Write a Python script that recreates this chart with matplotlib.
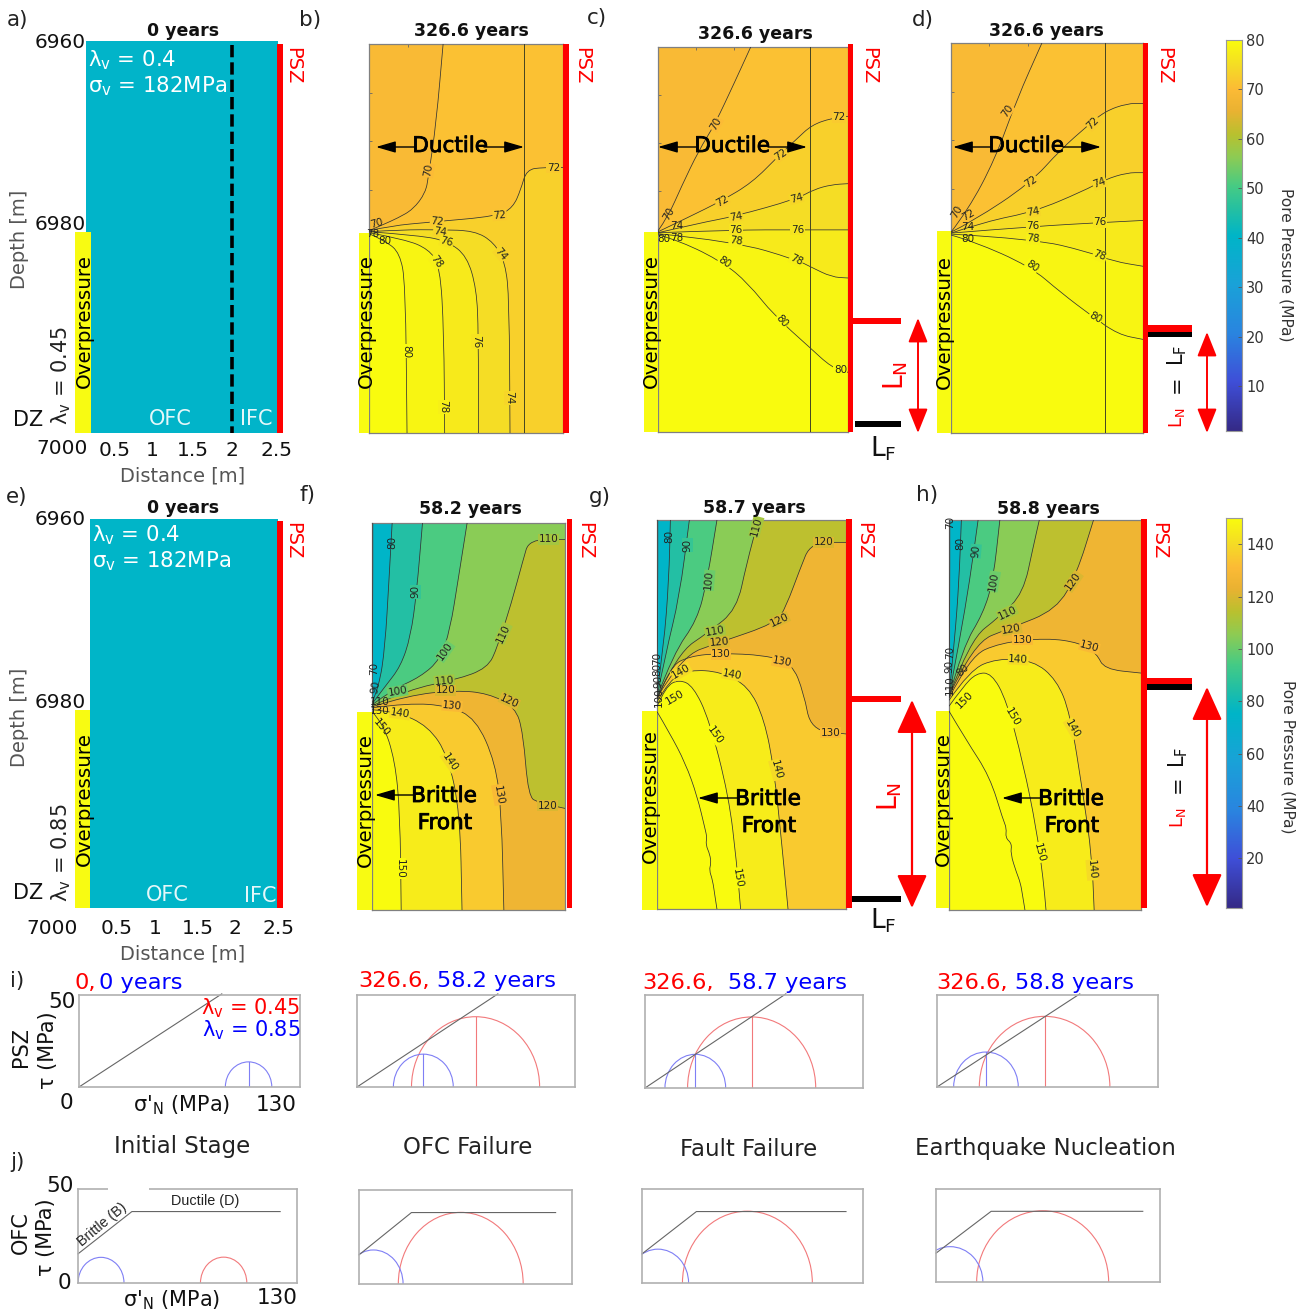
import numpy as np
import matplotlib
matplotlib.use('Agg')
import matplotlib.pyplot as plt
import matplotlib.patheffects as pe
from matplotlib.colors import LinearSegmentedColormap, Normalize
from matplotlib.path import Path
from matplotlib.patches import PathPatch, Arc, Rectangle

plt.rcParams['mathtext.default'] = 'regular'

W, H = 1311, 1313

# pore pressure contours, distance [m] and depth below 6960 m [m]
b_levels = [70, 72, 74, 76, 78, 80]
b_dist = [[0, .173, .371, .569, .728, .767, .866, .955],
          [0, .272, .817, 1.658, 1.856, 1.955, 2.03, 2.25, 2.5],
          [0, .42, .916, 1.36, 1.61, 1.757, 1.807, 1.817],
          [0, .668, 1.015, 1.262, 1.386, 1.41, 1.41],
          [0, .47, .767, .916, .965, .975],
          [0, .223, .396, .47, .49]]
b_depth = [[19.2, 18.6, 17.9, 17.0, 15.3, 13.6, 8.1, 0],
           [19.2, 18.7, 18.3, 17.7, 16.8, 15.0, 12.9, 12.7, 12.7],
           [19.3, 19.1, 19.1, 19.2, 20.4, 22.5, 26.3, 40],
           [19.3, 19.7, 20.3, 21.8, 25.2, 29.7, 40],
           [19.4, 20.1, 21.1, 22.8, 29.7, 40],
           [19.5, 20.3, 21.5, 24.6, 40]]

c_levels = [70, 72, 74, 76, 78, 80]
c_dist = [[0, .134, .308, .54, .744, 1.006, 1.22],
          [0, .424, .831, 1.238, 1.587, 1.82, 2.023, 2.285, 2.5],
          [0, .541, 1.006, 1.82, 2.052, 2.285, 2.5],
          [0, 1.006, 1.82, 2.5],
          [0, 1.006, 1.82, 2.023, 2.285, 2.5],
          [0, .308, .86, 1.18, 1.529, 1.994, 2.285, 2.5]]
c_depth = [[19.1, 17.6, 14.5, 10.7, 8.1, 3.7, 0],
           [19.2, 17.6, 16.0, 14.1, 11.3, 9.6, 8.1, 7.4, 7.2],
           [19.3, 18.3, 17.6, 15.8, 14.8, 14.3, 14.2],
           [19.3, 19.0, 19.0, 19.0],
           [19.4, 20.2, 22.1, 22.9, 23.9, 24.0],
           [19.5, 20.2, 22.4, 24.5, 27.9, 31.2, 33.3, 33.8]]

d_levels = [70, 72, 74, 76, 78, 80]
d_dist = [[0, .224, .569, .856, 1.184],
          [0, .282, 1.029, 1.431, 1.776, 2.006, 2.293, 2.5],
          [0, .454, 1.086, 1.718, 2.006, 2.293, 2.5],
          [0, 1.086, 2.006, 2.5],
          [0, 1.086, 1.776, 2.121, 2.5],
          [0, .282, 1.029, 1.431, 1.833, 2.178, 2.5]]
d_depth = [[19.4, 17.1, 12.0, 5.8, 0],
           [19.4, 18.3, 14.4, 10.9, 8.5, 7.0, 6.2, 6.2],
           [19.5, 18.3, 17.3, 15.2, 14.0, 13.3, 13.3],
           [19.5, 18.8, 18.4, 18.2],
           [19.6, 20.1, 21.4, 22.4, 22.9],
           [19.7, 20.3, 22.9, 25.6, 28.0, 29.9, 30.4]]

f_levels = [70, 80, 90, 100, 110, 120, 130, 140, 150]
f_dist = [[0, .01, .01],
          [0, .092, .169, .22, .261],
          [0, .169, .373, .501, .578, .654],
          [0, .271, .629, .884, 1.012, 1.115, 1.232],
          [0, .475, 1.089, 1.498, 1.626, 1.805, 1.958, 2.035, 2.5],
          [0, .475, 1.089, 1.498, 1.856, 1.958, 2.025, 2.163, 2.5],
          [0, .475, .987, 1.345, 1.6, 1.677, 1.708],
          [0, .322, .731, .987, 1.14, 1.166],
          [0, .143, .297, .363, .378]]
f_depth = [[18.0, 9.0, 0],
           [18.6, 16.9, 12.8, 5.9, 0],
           [18.7, 16.9, 14.8, 11.7, 7.2, 0],
           [18.8, 17.2, 15.9, 14.1, 11.0, 5.9, 0],
           [18.9, 17.2, 16.2, 15.0, 12.8, 8.3, 3.8, 1.7, 1.7],
           [19.0, 17.8, 17.3, 17.6, 19.0, 21.7, 28.3, 28.9, 29.5],
           [19.1, 18.6, 18.9, 20.2, 24.8, 30.0, 40],
           [19.3, 19.5, 21.0, 24.1, 30.0, 40],
           [19.5, 20.7, 24.5, 30.0, 40]]

g_levels = [70, 80, 90, 100, 110, 120, 130, 140, 150, 160]
g_dist = [[0, .01, .01],
          [0, .089, .157, .177],
          [0, .115, .297, .428],
          [0, .219, .532, .663, .793],
          [0, .271, .689, 1.054, 1.185, 1.341],
          [0, .324, .819, 1.576, 1.707, 1.889, 2.035, 2.5],
          [0, .167, .428, .846, 1.42, 1.785, 1.942, 2.035, 2.5],
          [0, .167, .428, .846, 1.211, 1.42, 1.55, 1.654, 1.733],
          [0, .115, .297, .48, .689, .95, 1.054, 1.106],
          [0, .167, .376, .532, .637, .66, .645, .70, .715, .69, .735, .767, .793]]
g_depth = [[17.5, 9.0, 0],
           [17.8, 13.0, 6.2, 0],
           [18.2, 13.7, 7.9, 0],
           [18.2, 13.7, 10.3, 6.2, 0],
           [18.3, 13.7, 11.5, 9.2, 4.5, 0],
           [18.3, 14.0, 12.6, 10.6, 8.9, 5.1, 2.3, 2.3],
           [18.5, 15.1, 14.0, 13.7, 13.9, 14.7, 17.8, 21.6, 22.0],
           [18.7, 16.4, 15.4, 15.6, 17.1, 20.5, 25.7, 33.6, 40],
           [19.2, 17.1, 16.4, 17.1, 20.5, 28.4, 35.3, 40],
           [19.7, 21.9, 25.0, 28.4, 31.8, 32.6, 33.4, 34.4, 35.3, 36.0, 37.0, 38.7, 40]]

h_levels = [70, 80, 90, 100, 110, 120, 130, 140, 150, 160]
h_dist = [[0, .01, .01],
          [0, .074, .131, .161],
          [0, .139, .27, .379],
          [0, .183, .444, .575, .662],
          [0, .27, .662, .967, 1.098, 1.176],
          [0, .314, .793, 1.402, 1.664, 1.882],
          [0, .27, .662, 1.272, 1.707, 1.925, 2.021, 2.5],
          [0, .27, .618, 1.098, 1.402, 1.577, 1.751, 1.86, 1.89],
          [0, .183, .357, .553, .749, .967, 1.141, 1.228, 1.263],
          [0, .226, .531, .706, .75, .735, .82, .80, .88, .93, .96, .989]]
h_depth = [[18.0, 9.0, 0],
           [18.1, 12.3, 6.2, 0],
           [18.1, 12.3, 6.2, 0],
           [18.1, 13.0, 9.6, 6.2, 0],
           [18.1, 12.3, 9.9, 7.5, 2.7, 0],
           [18.1, 12.6, 11.1, 9.2, 5.5, 0],
           [18.3, 14.0, 12.6, 12.1, 12.6, 13.7, 15.3, 15.7],
           [18.5, 15.4, 14.2, 14.4, 16.4, 19.8, 28.4, 34.5, 40],
           [19.1, 17.1, 15.7, 15.7, 18.5, 25.0, 31.8, 36.9, 40],
           [19.6, 22.6, 26.3, 30.8, 31.6, 32.6, 33.2, 34.2, 36.2, 37.2, 38.6, 40]]

# Mohr circles, principal stresses [MPa]
psz_red_s3 = [None, 32.5, 25.4, 24.9]
psz_red_s1 = [None, 108.9, 101.8, 101.7]
psz_blue_s3 = [86.1, 21.7, 11.9, 9.8]
psz_blue_s1 = [113.4, 57.4, 48.1, 47.8]
ofc_red_s3 = [72.7, 24.0, 23.8, 23.6]
ofc_red_s1 = [100.2, 100.2, 100.2, 100.2]
ofc_blue_s3 = [0, -9.3, -8.6, -10.8]
ofc_blue_s1 = [27.3, 26.9, 27.4, 27.2]
# failure envelopes
psz_env_s = [0, 84]
psz_env_t = [0, 50.6]
ofc_env_s = [0, 32, 120]
ofc_env_t = [15.5, 38, 38]

parula = LinearSegmentedColormap.from_list('parula_like', [
    (0.0, '#352a87'), (0.125, '#3f4fd8'), (0.25, '#2a85e0'), (0.375, '#1aa2d8'),
    (0.5, '#00b5c8'), (0.5625, '#22bfa5'), (0.625, '#45cb85'), (0.7, '#8ccc55'),
    (0.76, '#b9c12f'), (0.82, '#eab232'), (0.875, '#fcbb36'), (0.9375, '#f5dd25'),
    (1.0, '#f9fb0e')])
norm_top = Normalize(1, 80)
norm_bot = Normalize(1, 150)
RED = '#fe0000'

fig = plt.figure(figsize=(W / 100, H / 100), dpi=100)


def px_axes(x0, y0, x1, y1, **kw):
    return fig.add_axes([x0 / W, 1 - y1 / H, (x1 - x0) / W, (y1 - y0) / H], **kw)


def smooth_path(xs, ys, tail=()):
    pts = list(zip(xs, ys))
    verts, codes = [pts[0]], [Path.MOVETO]
    for i in range(1, len(pts) - 1):
        mid = ((pts[i][0] + pts[i + 1][0]) / 2, (pts[i][1] + pts[i + 1][1]) / 2)
        verts += [pts[i], mid]
        codes += [Path.CURVE3, Path.CURVE3]
    verts.append(pts[-1])
    codes.append(Path.LINETO)
    for p in tail:
        verts.append(p)
        codes.append(Path.LINETO)
    if tail:
        verts.append(pts[0])
        codes.append(Path.CLOSEPOLY)
    return Path(verts, codes)


def contour_panel(rect, levels, dists, depths, norm, base, labels, interface=False):
    ax = px_axes(*rect)
    ax.set_xlim(0, 2.5)
    ax.set_ylim(40, 0)
    ax.set_facecolor(parula(norm(base)))
    for i, lev in enumerate(levels):
        step = levels[1] - levels[0]
        col = parula(norm(lev + step / 2))
        xe, ye = dists[i][-1], depths[i][-1]
        if ye <= 0.01:
            tail = [(2.5, 0), (2.5, 40), (0, 40)]
        elif xe >= 2.49:
            tail = [(2.5, 40), (0, 40)]
        else:
            tail = [(0, 40)]
        ax.add_patch(PathPatch(smooth_path(dists[i], depths[i], tail), fc=col, ec='none', zorder=2 + i * 0.01))
    for i in range(len(levels)):
        ax.add_patch(PathPatch(smooth_path(dists[i], depths[i]), fc='none', ec='#333333', lw=0.55, zorder=3))
    if interface:
        ax.axvline(2.0, color='#444422', lw=0.7, zorder=3)
    for lev, x, y, rot in labels:
        bb = None
        if x > 0.3:
            bb = dict(fc=parula(norm(lev)), ec='none', pad=0.4)
        ax.text(x, y, str(lev), rotation=rot, fontsize=7.5, color='#222222', ha='center', va='center',
                rotation_mode='anchor', bbox=bb, zorder=6, clip_on=False)
    ax.set_xticks(np.arange(0.5, 2.5, 0.5))
    ax.set_yticks(np.arange(5, 40, 5))
    ax.tick_params(direction='in', length=2.5, width=0.6, color='#666666', top=True, right=True,
                   labelleft=False, labelbottom=False)
    for s in ax.spines.values():
        s.set_color('#808080')
        s.set_linewidth(0.9)
    return ax


# contour label placement (level, distance, depth, rotation)
b_lab = [(70, .767, 13.0, 80), (70, .1, 18.4, 15), (72, 2.376, 12.7, 0), (72, 1.683, 17.6, 5), (72, .876, 18.3, -5),
         (74, .916, 19.3, -8), (74, 1.7, 21.6, -50), (74, 1.807, 36.4, -90), (76, 1.0, 20.3, -15), (76, 1.386, 30.6, -90),
         (78, .866, 22.4, -55), (78, .955, 37.3, -90), (80, .485, 31.6, -90), (80, .2, 20.3, 0), (78, .05, 19.5, 0)]
c_lab = [(70, .76, 8.0, 60), (70, .145, 17.3, 60), (72, 2.384, 7.3, 0), (72, 1.616, 11.2, 35), (72, .843, 16.0, 30),
         (74, 1.82, 15.7, 15), (74, 1.023, 17.6, 10), (74, .24, 18.6, 0), (76, 1.837, 19.0, 0), (76, 1.023, 19.0, 0),
         (78, 1.82, 22.1, -25), (78, 1.023, 20.2, -8), (78, .24, 19.8, 0), (80, 2.4, 33.6, 0), (80, 1.628, 28.5, -50),
         (80, .878, 22.4, -35), (80, .076, 19.9, 0)]
d_lab = [(70, .73, 7.0, 55), (70, .08, 17.3, 60), (72, 1.851, 8.2, 45), (72, 1.04, 14.2, 35), (72, .22, 17.7, 30),
         (74, 1.937, 14.4, 20), (74, 1.069, 17.3, 10), (74, .22, 18.9, 0), (76, 1.937, 18.4, 0), (76, 1.069, 18.8, 0),
         (78, 1.937, 21.8, -20), (78, 1.069, 20.1, -5), (80, 1.879, 28.2, -30), (80, 1.057, 22.9, -35), (80, .22, 20.1, 0)]
f_lab = [(80, .256, 2.0, 90), (90, .567, 7.1, 90), (100, .946, 13.3, 55), (110, 1.702, 11.4, 65), (110, 2.29, 1.7, 0),
         (110, .936, 16.3, 5), (120, .951, 17.3, 0), (120, 1.779, 18.4, -25), (120, 2.275, 29.2, 0), (130, 1.038, 18.9, -5),
         (130, 1.636, 28.1, -80), (140, 1.012, 24.7, -55), (140, .36, 19.7, -8), (150, .118, 21.1, -50), (150, .363, 35.7, -90),
         (100, .33, 17.4, 10), (70, .03, 15.0, 90), (90, .04, 17.0, 80), (110, .1, 18.5, 0), (130, .1, 19.4, 0)]
g_lab = [(80, .167, 1.7, 90), (90, .402, 2.6, 90), (100, .689, 6.2, 85), (110, 1.315, .7, 75), (110, .767, 11.4, 10),
         (120, 2.2, 2.3, 0), (120, 1.618, 10.3, 25), (120, .819, 12.6, 5), (130, .846, 13.8, 0), (130, 1.654, 14.6, -10),
         (130, 2.291, 21.9, 0), (140, .992, 15.9, -10), (140, 1.576, 25.7, -75), (150, .767, 22.1, -55), (150, 1.065, 36.8, -80),
         (70, 0, 14.2, 90), (80, 0, 15.4, 90), (90, .02, 16.6, 90), (100, .02, 18.2, 90), (140, .32, 15.6, 30), (150, .24, 18.2, 30)]
h_lab = [(70, .01, .2, 90), (80, .148, 2.4, 90), (90, .348, 3.2, 85), (100, .584, 6.3, 80), (110, .758, 9.5, 25),
         (120, .814, 11.2, 10), (120, 1.62, 6.3, 55), (130, .958, 12.3, 0), (130, 1.829, 13.0, -15), (140, .902, 14.3, -3),
         (140, 1.611, 21.4, -60), (140, 1.86, 35.9, -85), (150, .828, 20.2, -60), (150, 1.176, 34.1, -75),
         (70, .01, 13.6, 90), (90, .0, 15.0, 90), (110, .01, 16.9, 90), (80, .18, 15.4, 45), (150, .2, 18.4, 45)]

contour_panel((369, 44, 563, 433), b_levels, b_dist, b_depth, norm_top, 69.5, b_lab, True)
contour_panel((658, 47, 848, 432), c_levels, c_dist, c_depth, norm_top, 69.5, c_lab, True)
contour_panel((951, 43, 1143, 433), d_levels, d_dist, d_depth, norm_top, 69.5, d_lab, True)
contour_panel((372, 523, 565, 910), f_levels, f_dist, f_depth, norm_bot, 65, f_lab)
contour_panel((657, 520, 846, 909), g_levels, g_dist, g_depth, norm_bot, 65, g_lab)
contour_panel((949, 520, 1141, 910), h_levels, h_dist, h_depth, norm_bot, 65, h_lab)

# initial state panels
for rect, norm, val in [((86, 41, 278, 433), norm_top, 40), ((90, 519, 278, 908), norm_bot, 75)]:
    ax = px_axes(*rect)
    ax.set_xlim(0.137, 2.58)
    ax.set_ylim(7000, 6960)
    ax.axhspan(6960, 7000, color=parula(norm(val)), lw=0)
    ax.axis('off')
    if norm is norm_top:
        ax.plot([2, 2], [6960.4, 7000], color='black', lw=2.6, ls=(0, (3.4, 1.4)))


def mohr_panel(rect, env_s, env_t, red, blue, stems=False):
    ax = px_axes(*rect)
    ax.set_xlim(0, 130)
    ax.set_ylim(0, 50)
    ax.set_xticks([])
    ax.set_yticks([])
    for s in ax.spines.values():
        s.set_color('#b0b0b0')
        s.set_linewidth(1.2)
    for (s3, s1), col in [(red, '#f2797b'), (blue, '#7f7ff5')]:
        if s3 is None:
            continue
        c, r = (s1 + s3) / 2, (s1 - s3) / 2
        ax.add_patch(Arc((c, 0), 2 * r, 2 * r, theta1=0, theta2=180, ec=col, lw=0.8))
        if stems:
            ax.plot([c, c], [0, r], color=col, lw=0.8)
    ax.plot(env_s, env_t, color='#666666', lw=0.8, clip_on=False)
    return ax


i_rects = [(79, 995, 300, 1087), (357, 995, 575, 1087), (645, 995, 863, 1088), (937, 995, 1158, 1087)]
j_rects = [(78, 1189, 297, 1283), (359, 1190, 572, 1284), (642, 1189, 863, 1283), (936, 1189, 1160, 1282)]
for k in range(4):
    mohr_panel(i_rects[k], psz_env_s, psz_env_t, (psz_red_s3[k], psz_red_s1[k]), (psz_blue_s3[k], psz_blue_s1[k]), True)
    mohr_panel(j_rects[k], ofc_env_s, ofc_env_t, (ofc_red_s3[k], ofc_red_s1[k]), (ofc_blue_s3[k], ofc_blue_s1[k]))


def colorbar(rect, vmax, norm, ticks):
    ax = px_axes(*rect)
    grad = np.linspace(1, vmax, 256)[:, None]
    ax.imshow(grad, aspect='auto', origin='lower', extent=[0, 1, 1, vmax], cmap=parula, norm=norm)
    ax.set_xticks([])
    ax.yaxis.tick_right()
    ax.set_yticks(ticks)
    ax.tick_params(axis='y', direction='in', length=3, width=0.6, color='#555555', labelsize=10.5,
                   labelcolor='#333333', pad=3)
    for s in ax.spines.values():
        s.set_color('#999999')
        s.set_linewidth(0.8)


colorbar((1226, 40, 1242, 431), 80, norm_top, [10, 20, 30, 40, 50, 60, 70, 80])
colorbar((1226, 518, 1242, 908), 150, norm_bot, [20, 40, 60, 80, 100, 120, 140])

# annotation layer in image pixels
ov = fig.add_axes([0, 0, 1, 1], zorder=10)
ov.set_xlim(0, W)
ov.set_ylim(H, 0)
ov.axis('off')


def box(x0, y0, x1, y1, col):
    ov.add_patch(Rectangle((x0, y0), x1 - x0, y1 - y0, fc=col, ec='none'))


def txt(x, y, s, size=14, col='#111111', rot=0, ha='center', va='center', **kw):
    return ov.text(x, y, s, fontsize=size, color=col, rotation=rot, ha=ha, va=va, **kw)


def arrow(x0, y0, x1, y1, style, col='black', lw=1.0):
    ov.annotate('', xy=(x1, y1), xytext=(x0, y0),
                arrowprops=dict(arrowstyle=style, color=col, lw=lw, shrinkA=0, shrinkB=0, mutation_scale=10))


def heavy(x, y, s):
    t = txt(x, y, s, 15.5, 'black')
    t.set_path_effects([pe.withStroke(linewidth=0.6, foreground='black')])


# overpressure zones
for r in [(75, 232, 91, 433), (359, 233, 369, 433), (644, 232, 658, 432), (937, 231, 951, 433),
          (75, 710, 90, 908), (357, 712, 372, 910), (642, 711, 657, 910), (936, 711, 949, 908)]:
    box(*r, '#f8fb12')
for x, y in [(84, 321), (366, 321), (651, 321), (944, 322), (84, 799), (365, 800), (650, 796), (943, 799)]:
    txt(x, y, 'Overpressure', 14.3, 'black', 90)

# principal slip zones and fault lengths
for r in [(277, 44, 283, 433), (563, 44, 569, 433), (848, 44, 853, 432), (1143, 43, 1148, 433),
          (277, 521, 283, 908), (567, 519, 572, 908), (846, 519, 852, 908), (1141, 519, 1147, 908)]:
    box(*r, RED)
for x, y in [(293, 66), (582, 66), (869, 66), (1164, 66), (293, 541), (585, 541), (864, 541), (1159, 541)]:
    txt(x, y, 'PSZ', 14, RED, -90)
box(853, 318, 901, 324, RED)
box(855, 421, 901, 427, 'black')
box(1148, 325, 1192, 332, RED)
box(1148, 332, 1192, 337, 'black')
box(852, 696, 901, 702, RED)
box(852, 896, 901, 902, 'black')
box(1147, 678, 1192, 684, RED)
box(1147, 684, 1192, 690, 'black')
small = '<|-|>,head_length=1.5,head_width=0.6'
big = '<|-|>,head_length=2.1,head_width=0.95'
arrow(918, 318, 918, 433, small, RED, 1.4)
arrow(1207, 332, 1207, 433, small, RED, 1.4)
arrow(912, 700, 912, 908, big, RED, 1.6)
arrow(1207, 687, 1207, 907, big, RED, 1.6)
txt(896, 375, '$L_N$', 19, RED, 90)
txt(883, 449, '$L_F$', 19, '#111111')
txt(890, 796, '$L_N$', 19, RED, 90)
txt(883, 921, '$L_F$', 19, '#111111')
txt(1177, 355, '$L_F$', 15, '#111111', 90)
txt(1177, 384, '=', 15, '#111111', 90)
txt(1177, 418, '$L_N$', 13, RED, 90)
txt(1178, 757, '$L_F$', 15, '#111111', 90)
txt(1178, 784, '=', 15, '#111111', 90)
txt(1178, 818, '$L_N$', 13, RED, 90)

# ductile and brittle labels
stealth = '-|>,head_length=1.2,head_width=0.35'
for xc, left, right, tl, tr in [(450, 376, 524, 415, 484), (732, 658, 807, 697, 768), (1026, 953, 1101, 991, 1063)]:
    heavy(xc, 146, 'Ductile')
    arrow(tl, 147, left, 147, stealth)
    arrow(tr, 147, right, 147, stealth)
for xc, yc, tail, tip, ya in [(444, 796, 413, 375, 795), (768, 799, 737, 698, 798), (1071, 799, 1040, 1002, 798)]:
    heavy(xc, yc, 'Brittle')
    heavy(xc + 1, yc + 27, 'Front')
    arrow(tail, ya, tip, ya, stealth)

# titles
for x, y, s in [(183, 31, '0 years'), (471, 31, '326.6 years'), (755, 34, '326.6 years'), (1046, 31, '326.6 years'),
                (183, 508, '0 years'), (470, 509, '58.2 years'), (754, 508, '58.7 years'), (1048, 509, '58.8 years')]:
    txt(x, y, s, 12.5, '#111111', fontweight='bold')
for x, y, s in [(18, 20, 'a)'), (310, 20, 'b)'), (597, 18, 'c)'), (923, 20, 'd)'), (17, 497, 'e)'), (308, 495, 'f)'),
                (600, 497, 'g)'), (927, 495, 'h)'), (17, 981, 'i)'), (17, 1162, 'j)')]:
    txt(x, y, s, 15.5, '#222222')

# axis text of the initial panels
for y0, lam, xs, ofc, ifc, x7000, y7000, ydz in [
        (0, '0.45', [115, 152, 193, 232, 276], (170, 419), (256, 419), 62, 448, 420),
        (478, '0.85', [117, 155, 198, 235, 279], (167, 895), (260, 896), 52, 928, 893)]:
    txt(60, 43 + y0 * 0.997, '6960', 14.5)
    txt(60, 224 + y0, '6980', 14.5)
    txt(x7000, y7000, '7000', 14.5)
    for x, lab in zip(xs, ['0.5', '1', '1.5', '2', '2.5']):
        txt(x, 450 + y0, lab, 14.5)
    txt(183, 476 + y0, 'Distance [m]', 14, '#555555')
    txt(20, 239 + y0, 'Depth [m]', 14, '#555555', 90)
    txt(61, 375 + y0, r'$\lambda_v$ = ' + lam, 15, '#222222', 90)
    txt(28, ydz, 'DZ', 15)
    txt(ofc[0], ofc[1], 'OFC', 15, 'white', alpha=0.9)
    txt(ifc[0], ifc[1], 'IFC', 15, 'white', alpha=0.9)
txt(88, 60, r'$\lambda_v$ = 0.4', 15.3, 'white', ha='left')
txt(88, 86, r'$\sigma_v$ = 182MPa', 15.3, 'white', ha='left')
txt(92, 535, r'$\lambda_v$ = 0.4', 15.3, 'white', ha='left')
txt(92, 561, r'$\sigma_v$ = 182MPa', 15.3, 'white', ha='left')

# colour bar titles
txt(1286, 265, 'Pore Pressure (MPa)', 11.2, '#333333', -90)
txt(1288, 757, 'Pore Pressure (MPa)', 11.2, '#333333', -90)

# Mohr row text
for xr, rs, xb, bs, y in [(75, '0,', 99, '0 years', 983), (358, '326.6,', 437, '58.2 years', 981),
                          (642, '326.6,', 728, '58.7 years', 983), (936, '326.6,', 1015, '58.8 years', 983)]:
    txt(xr, y, rs, 16.2, RED, ha='left')
    txt(xb, y, bs, 16.2, '#0000fe', ha='left')
txt(300, 1008, r'$\lambda_v$ = 0.45', 15, RED, ha='right')
txt(301, 1030, r'$\lambda_v$ = 0.85', 15, '#0000fe', ha='right')
txt(62, 1002, '50', 15.5)
txt(66, 1103, '0', 15.5)
txt(276, 1105, '130', 15.5)
txt(182, 1105, "σ'$_N$ (MPa)", 15)
txt(21, 1047, 'PSZ', 15, rot=90)
txt(48, 1050, 'τ (MPa)', 15, rot=90)
txt(60, 1186, '50', 15.5)
txt(64, 1283, '0', 15.5)
txt(277, 1298, '130', 15.5)
txt(172, 1300, "σ'$_N$ (MPa)", 15)
txt(21, 1233, 'OFC', 15, rot=90)
txt(46, 1237, 'τ (MPa)', 15, rot=90)
for x, y, s in [(182, 1147, 'Initial Stage'), (468, 1148, 'OFC Failure'), (749, 1149, 'Fault Failure'),
                (1045, 1148, 'Earthquake Nucleation')]:
    txt(x, y, s, 16.5, '#222222')
txt(205, 1201, 'Ductile (D)', 10.4, '#222222', family='Liberation Sans')
txt(102, 1225, 'Brittle (B)', 10.2, '#222222', 40, family='Liberation Sans')
box(108, 1187, 149, 1191, 'white')

fig.savefig('out.png', dpi=100)
